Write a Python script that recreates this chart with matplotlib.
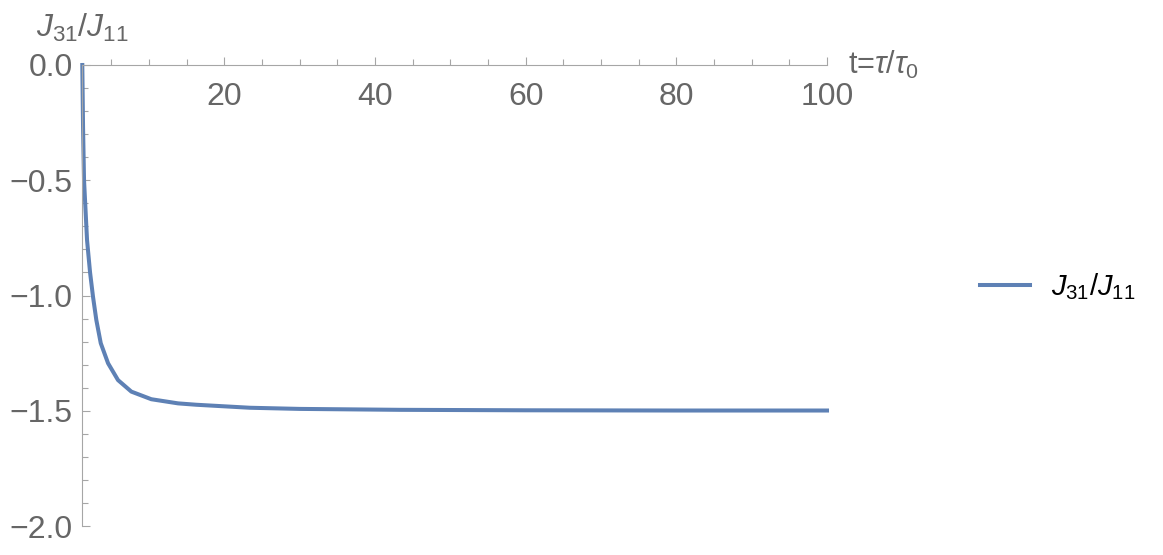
import numpy as np
import matplotlib
matplotlib.use('Agg')
import matplotlib.pyplot as plt
from matplotlib.ticker import MultipleLocator

plt.rcParams['font.family'] = ['Liberation Sans', 'DejaVu Sans']
plt.rcParams['mathtext.fontset'] = 'custom'
plt.rcParams['mathtext.rm'] = 'Liberation Sans'
plt.rcParams['mathtext.it'] = 'Liberation Sans:italic'

# values
t = [1.15, 1.25, 1.38, 1.78, 2.18, 2.57, 3.01, 3.60, 4.57, 5.89, 7.66,
     10.31, 13.86, 16.29, 23.4, 30.0, 43.3, 60.0, 80.0, 100.0]
ratio = [0.0, -0.27, -0.50, -0.76, -0.90, -1.005, -1.106, -1.207, -1.294,
         -1.367, -1.417, -1.450, -1.468, -1.474, -1.487, -1.492, -1.496,
         -1.498, -1.499, -1.499]
xticks = [20, 40, 60, 80, 100]
yticks = [0.0, -0.5, -1.0, -1.5, -2.0]
ylabels = ['0.0', '\u22120.5', '\u22121.0', '\u22121.5', '\u22122.0']

gray = '#666666'
axgray = '#a6a6a6'
blue = '#5E81B5'

fig = plt.figure(figsize=(11.63, 5.55), dpi=100)
ax = fig.add_axes([82.3/1163, 1-526/555, (827-82.3)/1163, (526-65)/555])

ax.plot(t, ratio, color=blue, lw=2.9, clip_on=False, solid_joinstyle='round',
        label=r'$J_{31}/J_{11}$')
ax.set_xlim(t[0], 100)
ax.set_ylim(-2, 0)

for s in ['top', 'right']:
    ax.spines[s].set_visible(False)
ax.spines['bottom'].set_position(('data', 0))
for s in ['bottom', 'left']:
    ax.spines[s].set_color(axgray)
    ax.spines[s].set_linewidth(0.8)

ax.set_xticks(xticks)
ax.set_yticks(yticks)
ax.set_yticklabels(ylabels)
ax.xaxis.set_minor_locator(MultipleLocator(5))
ax.yaxis.set_minor_locator(MultipleLocator(0.1))
ax.tick_params(which='both', direction='in', color=axgray, width=0.8,
               labelcolor=gray, labelsize=23)
ax.tick_params(which='major', length=6)
ax.tick_params(which='minor', length=4)
ax.tick_params(axis='x', pad=12)
ax.tick_params(axis='y', pad=7)

ax.text(0, 1 + 37/461, r'$J_{31}/J_{11}$', transform=ax.transAxes,
        ha='center', va='center', fontsize=23, color=gray)
ax.text(1 + 21/745, 1.0, r't=$\tau/\tau_0$', transform=ax.transAxes,
        ha='left', va='center', fontsize=22, color=gray)

leg = ax.legend(loc='center left', bbox_to_anchor=(980/1163, 1-287/555),
                bbox_transform=fig.transFigure, frameon=False, fontsize=21,
                borderpad=0, borderaxespad=0, handlelength=1.7,
                handletextpad=0.72)
for txt in leg.get_texts():
    txt.set_color('black')

fig.savefig('out.png', dpi=100)
